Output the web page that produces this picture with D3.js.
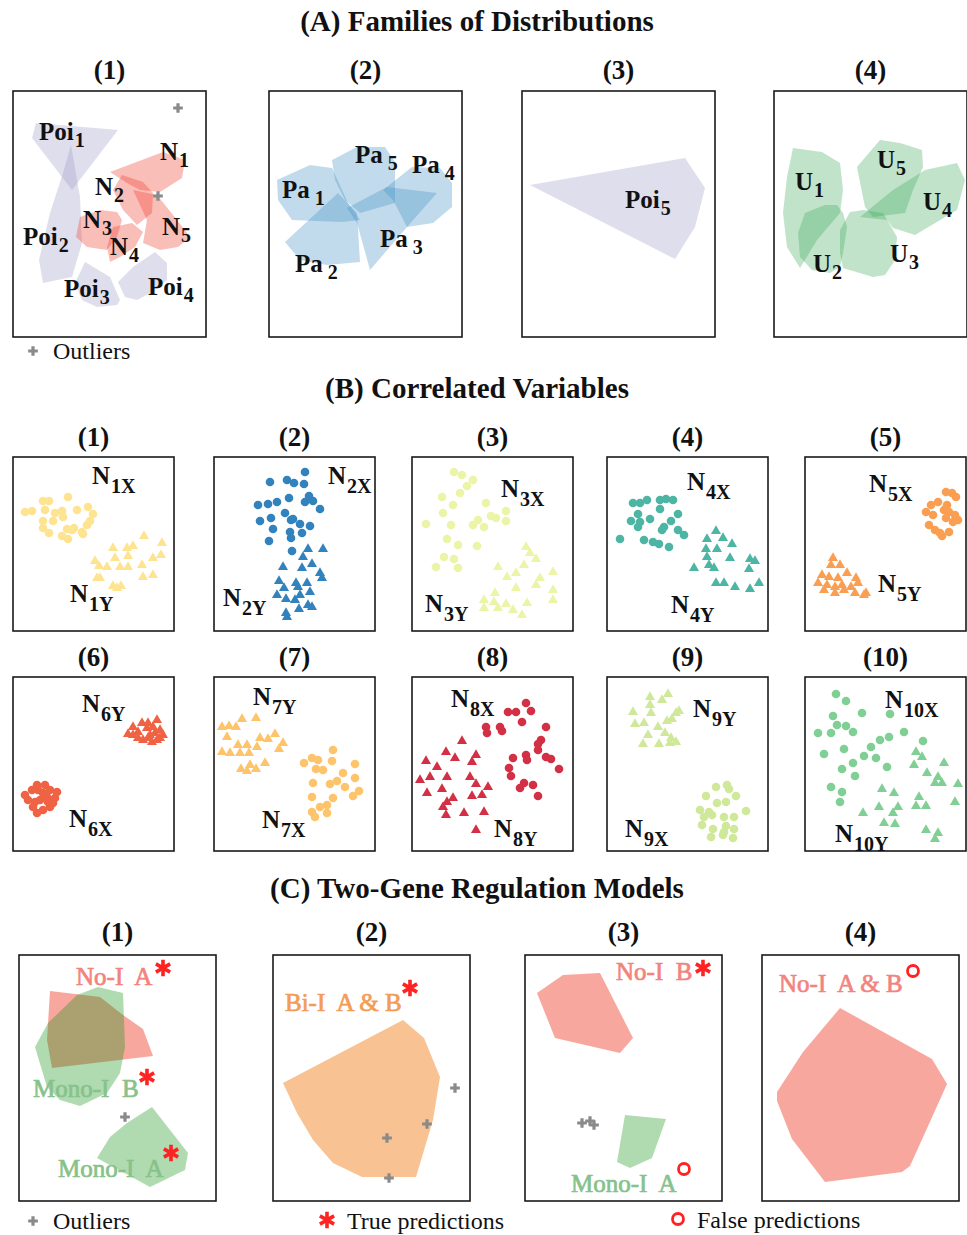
<!DOCTYPE html>
<html>
<head>
<meta charset="utf-8">
<script src="https://cdn.jsdelivr.net/npm/d3@7"></script>
<style>
  body { margin: 0; background: #fff; }
  svg text { font-family: 'Liberation Serif', 'Times New Roman', serif; }
</style>
</head>
<body>
<svg id="fig" width="967" height="1235"></svg>
<script>
// ---------------- data ----------------
var sectionTitles = ["(A) Families of Distributions", "(B) Correlated Variables", "(C) Two-Gene Regulation Models"];
var famTags = ["(1)", "(2)", "(3)", "(4)"];
var corrTags = ["(1)", "(2)", "(3)", "(4)", "(5)", "(6)", "(7)", "(8)", "(9)", "(10)"];
var regTags = ["(1)", "(2)", "(3)", "(4)"];

// (A) convex hulls of samples, panel units (x right, y down)
var fam1 = [
  { name: "Poi", sub: "1", family: "poi", hull: [[23,32],[105,39],[59,99],[19,47]] },
  { name: "Poi", sub: "2", family: "poi", hull: [[58,54],[67,106],[69,152],[59,186],[30,192],[26,169],[37,122],[50,82]] },
  { name: "Poi", sub: "3", family: "poi", hull: [[72,171],[97,186],[107,209],[104,214],[84,216],[69,209],[62,192]] },
  { name: "Poi", sub: "4", family: "poi", hull: [[142,161],[154,172],[154,189],[139,201],[124,209],[112,206],[105,191],[120,176]] },
  { name: "N", sub: "1", family: "norm", hull: [[97,81],[150,61],[172,69],[169,87],[147,101],[127,99],[114,92]] },
  { name: "N", sub: "2", family: "norm", hull: [[109,84],[130,91],[140,102],[139,122],[124,134],[110,119],[100,99]] },
  { name: "N", sub: "5", family: "norm", hull: [[120,99],[144,104],[164,129],[177,146],[165,156],[147,159],[130,152],[134,129]] },
  { name: "N", sub: "3", family: "norm", hull: [[67,126],[87,119],[104,121],[109,129],[104,146],[94,159],[74,156],[63,146]] },
  { name: "N", sub: "4", family: "norm", hull: [[100,136],[119,132],[130,141],[122,156],[107,166],[97,171],[94,156]] }
];
var fam1Outliers = [[165,17],[145,105]];
var fam2 = [
  { name: "Pa", sub: "1", family: "pareto", hull: [[8,89],[41,74],[63,77],[79,112],[91,129],[73,131],[23,129],[9,109]] },
  { name: "Pa", sub: "5", family: "pareto", hull: [[63,69],[88,56],[116,56],[126,71],[126,112],[91,122],[76,109],[66,89]] },
  { name: "Pa", sub: "4", family: "pareto", hull: [[114,99],[143,76],[171,77],[183,92],[183,116],[164,132],[138,136],[124,109]] },
  { name: "Pa", sub: "3", family: "pareto", hull: [[78,117],[118,96],[168,102],[138,136],[101,179],[88,132]] },
  { name: "Pa", sub: "2", family: "pareto", hull: [[16,151],[69,102],[88,122],[91,171],[58,174],[31,169]] }
];
var fam3 = [
  { name: "Poi", sub: "5", family: "poi", hull: [[8,94],[163,67],[171,79],[183,97],[173,136],[153,168]] }
];
var fam4 = [
  { name: "U", sub: "1", family: "unif", hull: [[19,57],[48,61],[66,72],[69,99],[66,122],[43,149],[26,177],[13,156],[9,122],[13,86]] },
  { name: "U", sub: "2", family: "unif", hull: [[31,122],[51,114],[63,114],[69,122],[73,136],[69,162],[66,176],[56,182],[38,179],[26,166],[24,142]] },
  { name: "U", sub: "3", family: "unif", hull: [[76,121],[89,119],[109,122],[123,146],[121,169],[111,184],[99,186],[69,177],[66,162],[66,139]] },
  { name: "U", sub: "4", family: "unif", hull: [[86,126],[119,99],[151,79],[183,72],[191,89],[183,119],[141,144],[119,137],[113,129]] },
  { name: "U", sub: "5", family: "unif", hull: [[83,76],[106,49],[126,52],[148,59],[149,76],[139,99],[131,122],[99,126],[91,116]] }
];

// (B) sampled pairs, X drawn as circles, Y as triangles
var n1X = [[12,55],[19,54],[30,44],[36,44],[55,40],[32,53],[42,56],[49,54],[64,53],[75,50],[80,57],[30,64],[40,64],[50,60],[77,64],[74,68],[30,71],[36,76],[49,79],[54,72],[61,71],[69,75],[70,77],[55,82],[59,73]];
var n1Y = [[131,79],[149,86],[100,91],[114,91],[120,89],[102,101],[115,99],[140,101],[148,98],[82,104],[86,109],[94,110],[107,110],[115,110],[129,108],[84,121],[87,121],[130,120],[140,118],[100,129],[108,129],[104,131]];
var n2X = [[91,15],[56,25],[73,23],[80,26],[90,27],[44,48],[54,47],[63,45],[75,41],[95,39],[99,44],[91,45],[106,52],[71,56],[46,64],[57,61],[77,63],[79,62],[86,67],[96,69],[59,72],[76,75],[88,76],[55,84],[77,81],[78,94]];
var n2Y = [[94,92],[109,92],[89,100],[98,107],[69,110],[88,111],[106,116],[108,121],[65,124],[82,126],[93,126],[70,131],[84,130],[63,138],[72,142],[81,143],[96,135],[86,138],[94,148],[98,150],[85,152],[72,156],[73,160]];
var n3X = [[42,15],[50,18],[61,23],[55,29],[48,36],[30,40],[41,48],[74,46],[31,56],[66,63],[79,59],[84,61],[94,54],[94,64],[14,67],[39,68],[61,68],[72,70],[35,82],[46,88],[65,89],[32,100],[42,102],[24,110],[46,111]];
var n3Y = [[114,90],[118,96],[124,102],[86,110],[112,108],[104,116],[95,120],[141,115],[128,121],[124,128],[104,131],[141,133],[83,136],[72,143],[82,145],[94,147],[115,146],[141,143],[72,151],[86,151],[101,153],[110,158]];
var n4X = [[26,46],[33,46],[40,43],[53,43],[59,42],[66,43],[53,52],[71,57],[31,57],[43,62],[33,65],[64,64],[24,64],[57,70],[55,73],[31,70],[71,73],[77,78],[13,82],[37,83],[46,85],[52,87],[62,90]];
var n4Y = [[109,74],[100,82],[116,81],[125,87],[99,92],[110,92],[100,100],[123,101],[102,108],[107,111],[87,111],[143,102],[148,104],[142,112],[109,126],[117,126],[128,130],[143,132],[152,126]];
var n5X = [[121,55],[126,48],[133,45],[141,35],[147,36],[151,40],[142,48],[139,53],[144,55],[150,58],[153,63],[148,65],[141,61],[128,58],[124,68],[130,73],[135,76],[137,79],[144,75]];
var n5Y = [[28,101],[26,108],[35,108],[17,118],[24,120],[33,121],[42,116],[51,121],[13,126],[22,128],[30,130],[37,128],[46,130],[53,126],[61,136],[19,133],[30,136],[39,133],[50,136],[59,138]];
var n6X = [[12,118],[19,113],[24,108],[32,108],[37,113],[44,115],[42,121],[35,125],[37,130],[30,133],[24,136],[20,130],[15,123],[27,123],[30,116],[25,113],[34,120],[40,126],[22,125]];
var n6Y = [[120,50],[115,57],[125,55],[129,46],[135,46],[144,43],[140,50],[147,53],[150,58],[144,63],[139,65],[130,63],[125,61],[134,51],[137,58],[142,56],[135,61],[147,61],[120,58]];
var n7X = [[119,73],[98,81],[104,83],[118,84],[90,86],[102,92],[109,93],[141,87],[129,96],[99,106],[116,107],[123,104],[131,110],[141,101],[145,114],[139,119],[119,121],[98,120],[106,130],[113,128],[98,135],[101,140],[113,136]];
var n7Y = [[8,50],[15,49],[22,50],[28,42],[42,41],[13,60],[46,61],[54,62],[61,57],[69,66],[65,72],[24,68],[33,68],[43,70],[8,75],[16,76],[26,76],[35,76],[51,86],[36,88],[27,92],[42,92],[33,94]];
var n8X = [[114,26],[96,35],[104,35],[119,34],[110,45],[74,50],[75,56],[88,50],[90,54],[134,50],[129,63],[126,67],[126,73],[114,78],[115,83],[101,81],[97,91],[99,99],[134,80],[139,82],[147,92],[121,108],[112,106],[108,111],[126,119]];
var n8Y = [[50,64],[34,75],[43,81],[64,78],[60,85],[14,84],[25,90],[18,100],[35,100],[8,103],[58,100],[64,107],[76,110],[30,112],[15,116],[41,121],[35,125],[31,130],[34,138],[52,136],[60,119],[70,118],[72,135],[64,153]];
var n9X = [[120,108],[122,112],[129,119],[109,110],[99,119],[110,126],[119,125],[93,133],[102,135],[97,140],[105,138],[139,134],[117,140],[127,140],[119,149],[127,152],[106,152],[95,148],[104,160],[116,158],[126,161],[117,155]];
var n9Y = [[43,20],[61,17],[55,23],[26,35],[43,28],[44,36],[72,34],[69,36],[65,42],[60,44],[37,46],[28,47],[51,50],[58,56],[64,61],[69,65],[63,66],[52,67],[41,58],[36,67]];
var n10X = [[31,17],[41,24],[57,36],[85,37],[28,39],[32,48],[41,49],[13,56],[26,56],[48,55],[75,63],[84,60],[99,55],[118,64],[19,77],[39,72],[66,70],[59,79],[48,86],[71,81],[82,90],[37,92],[50,99],[26,110],[37,115],[35,125]];
var n10Y = [[111,75],[117,80],[139,86],[109,88],[122,96],[133,100],[130,106],[137,106],[153,107],[77,112],[89,116],[114,120],[111,129],[121,129],[150,125],[74,130],[93,130],[88,136],[58,136],[90,147],[79,146],[121,153],[133,156],[130,162]];
var corrColors = ["#fee391", "#3182bd", "#ecf4a8", "#4cb5a3", "#fa9f52", "#ef6344", "#fdc46c", "#d32f45", "#cfe89a", "#80cf95"];

// (C) regulation models: hulls, outliers and prediction verdicts
var reg1 = [
  { model: "noI", hull: [[31,36],[81,42],[104,60],[124,74],[134,101],[33,113],[28,85]] },
  { model: "monoI", hull: [[79,32],[104,38],[106,92],[101,118],[88,138],[61,151],[41,145],[28,132],[16,92],[29,68],[58,40]] },
  { model: "monoI", hull: [[133,152],[169,198],[166,215],[131,232],[78,203],[91,182],[108,168]] }
];
var reg2 = [
  { model: "biI", hull: [[10,128],[130,65],[151,83],[167,122],[160,165],[143,222],[89,222],[60,208],[40,185],[24,158]] }
];
var reg3 = [
  { model: "noI", hull: [[12,38],[38,20],[75,18],[108,83],[95,98],[30,83]] },
  { model: "monoI", hull: [[100,160],[141,164],[127,203],[105,213],[92,207]] }
];
var reg4 = [
  { model: "noI", hull: [[78,53],[170,104],[185,129],[148,211],[140,217],[63,227],[30,184],[15,146],[15,137],[41,97]] }
];
var regOutliers = [[[106,162]], [[182,133],[154,169],[114,183],[116,223]], [[57,168],[65,166],[69,170]], []];
var regLabels = [
  [{ text: "No-I  A", model: "noI", ok: true }, { text: "Mono-I  B", model: "monoI", ok: true }, { text: "Mono-I  A", model: "monoI", ok: true }],
  [{ text: "Bi-I  A & B", model: "biI", ok: true }],
  [{ text: "No-I  B", model: "noI", ok: true }, { text: "Mono-I  A", model: "monoI", ok: false }],
  [{ text: "No-I  A & B", model: "noI", ok: false }]
];

// ---------------- layout ----------------
var famLefts = [13, 269, 522, 774], famTop = 91, famW = 193, famH = 246;
var corrLefts = [13, 214, 412, 607, 805], corrTops = [457, 677], corrW = 161, corrH = 174;
var regLefts = [19, 273, 525, 762], regTop = 955, regW = 197, regH = 246;

var famLabelAt = [
  [[26,49],[10,154],[51,206],[135,204],[147,69],[82,104],[149,144],[70,137],[97,164]],
  [[13,107],[86,72],[143,82],[111,156],[26,181]],
  [[103,117]],
  [[21,99],[39,181],[116,171],[149,119],[103,77]]
];
// [X label, Y label] anchors per correlated panel
var corrLabelAt = [
  [[79,27],[57,145]], [[114,27],[9,149]], [[89,40],[13,155]], [[80,33],[64,156]], [[64,35],[73,135]],
  [[56,150],[69,35]], [[48,151],[39,28]], [[39,30],[82,160]], [[18,160],[86,40]], [[80,31],[30,165]]
];
var regLabelAt = [[[57,30],[14,142],[39,222]], [[12,56]], [[91,25],[46,237]], [[17,37]]];
var regMarkAt = [[[144,13],[128,122],[152,198]], [[137,33]], [[178,13],[159,214]], [[151,16]]];

var famFill = { poi: "#9e9ac8", norm: "#ef3b2c", pareto: "#4292c6", unif: "#41ab5d" };
var regFill = { noI: "#f0503c", monoI: "#1e961e", biI: "#f59a4a" };
var regFillOpacity = { noI: 0.5, monoI: 0.35, biI: 0.6 };
var regText = { noI: "#f2837e", monoI: "#86c28a", biI: "#f39c55" };

var svg = d3.select("#fig");
var outlierSym = d3.symbol().type(d3.symbolCross).size(52);
var starSym = d3.symbol().type(d3.symbolAsterisk || d3.symbolCross).size(190);

function panel(left, top, w, h) {
  var g = svg.append("g");
  g.append("rect").attr("x", left).attr("y", top).attr("width", w).attr("height", h)
    .attr("fill", "none").attr("stroke", "#1a1a1a").attr("stroke-width", 1.6);
  return {
    g: g,
    x: d3.scaleLinear().domain([0, w]).range([left, left + w]),
    y: d3.scaleLinear().domain([0, h]).range([top, top + h])
  };
}

function hullPath(p) {
  return d3.line().x(function(d){ return p.x(d[0]); }).y(function(d){ return p.y(d[1]); })
    .curve(d3.curveLinearClosed);
}

function subLabel(g, x, y, main, sub, o) {
  var t = g.append("text").attr("x", x).attr("y", y)
    .attr("font-size", o.size).attr("font-weight", "bold").attr("fill", "#111");
  t.append("tspan").text(main);
  t.append("tspan").attr("dx", o.gap).attr("dy", o.drop).attr("font-size", o.subSize).text(sub);
}

function tag(text, cx, y) {
  svg.append("text").attr("x", cx).attr("y", y).attr("text-anchor", "middle")
    .attr("font-size", 27).attr("font-weight", "bold").attr("fill", "#111").text(text);
}

function outliers(p, pts) {
  p.g.selectAll(null).data(pts).enter().append("path")
    .attr("d", outlierSym)
    .attr("transform", function(d){ return "translate(" + p.x(d[0]) + "," + p.y(d[1]) + ")"; })
    .attr("fill", "#8a8a8a");
}

function verdictMark(g, x, y, ok) {
  if (ok) {
    g.append("path").attr("d", starSym).attr("transform", "translate(" + x + "," + y + ")")
      .attr("fill", "#f22").attr("stroke", "#f22").attr("stroke-width", 3.6);
  } else {
    g.append("circle").attr("cx", x).attr("cy", y).attr("r", 5.5)
      .attr("fill", "none").attr("stroke", "#f22").attr("stroke-width", 2.8);
  }
}

// section titles
[31, 398, 898].forEach(function(y, i) {
  svg.append("text").attr("x", 477).attr("y", y).attr("text-anchor", "middle")
    .attr("font-size", 29).attr("font-weight", "bold").attr("fill", "#111").text(sectionTitles[i]);
});

// ---- (A)
[fam1, fam2, fam3, fam4].forEach(function(hulls, i) {
  tag(famTags[i], famLefts[i] + famW / 2, 79);
  var p = panel(famLefts[i], famTop, famW, famH);
  var line = hullPath(p);
  p.g.selectAll("path.hull").data(hulls).enter().append("path").attr("class", "hull")
    .attr("d", function(d){ return line(d.hull); })
    .attr("fill", function(d){ return famFill[d.family]; })
    .attr("fill-opacity", 0.33);
  if (i === 0) outliers(p, fam1Outliers);
  hulls.forEach(function(d, j) {
    var at = famLabelAt[i][j];
    subLabel(p.g, p.x(at[0]), p.y(at[1]), d.name, d.sub,
      { size: 25, subSize: 20, drop: 7, gap: d.family === "pareto" ? 5 : 1 });
  });
});

// ---- (B)
var corrData = [[n1X,n1Y],[n2X,n2Y],[n3X,n3Y],[n4X,n4Y],[n5X,n5Y],[n6X,n6Y],[n7X,n7Y],[n8X,n8Y],[n9X,n9Y],[n10X,n10Y]];
var triSym = d3.symbol().type(d3.symbolTriangle).size(44);
corrData.forEach(function(pair, i) {
  var row = Math.floor(i / 5), col = i % 5;
  tag(corrTags[i], corrLefts[col] + corrW / 2, row === 0 ? 446 : 666);
  var p = panel(corrLefts[col], corrTops[row], corrW, corrH);
  p.g.selectAll("circle.x").data(pair[0]).enter().append("circle").attr("class", "x")
    .attr("cx", function(d){ return p.x(d[0]); })
    .attr("cy", function(d){ return p.y(d[1]); })
    .attr("r", 4.3).attr("fill", corrColors[i]);
  p.g.selectAll("path.y").data(pair[1]).enter().append("path").attr("class", "y")
    .attr("d", triSym)
    .attr("transform", function(d){ return "translate(" + p.x(d[0]) + "," + p.y(d[1]) + ")"; })
    .attr("fill", corrColors[i]);
  var n = i + 1;
  subLabel(p.g, p.x(corrLabelAt[i][0][0]), p.y(corrLabelAt[i][0][1]), "N", n + "X", { size: 25, subSize: 20, drop: 9, gap: 1 });
  subLabel(p.g, p.x(corrLabelAt[i][1][0]), p.y(corrLabelAt[i][1][1]), "N", n + "Y", { size: 25, subSize: 20, drop: 9, gap: 1 });
});

// ---- (C)
[reg1, reg2, reg3, reg4].forEach(function(hulls, i) {
  tag(regTags[i], regLefts[i] + regW / 2, 941);
  var p = panel(regLefts[i], regTop, regW, regH);
  var line = hullPath(p);
  p.g.selectAll("path.hull").data(hulls).enter().append("path").attr("class", "hull")
    .attr("d", function(d){ return line(d.hull); })
    .attr("fill", function(d){ return regFill[d.model]; })
    .attr("fill-opacity", function(d){ return regFillOpacity[d.model]; });
  outliers(p, regOutliers[i]);
  regLabels[i].forEach(function(d, j) {
    var at = regLabelAt[i][j], mk = regMarkAt[i][j];
    p.g.append("text").attr("x", p.x(at[0])).attr("y", p.y(at[1]))
      .style("white-space", "pre")
      .attr("font-size", 25).attr("fill", regText[d.model])
      .attr("stroke", regText[d.model]).attr("stroke-width", 0.7)
      .text(d.text);
    verdictMark(p.g, p.x(mk[0]), p.y(mk[1]), d.ok);
  });
});

// ---- legends
function legendText(x, y, text) {
  svg.append("text").attr("x", x).attr("y", y).attr("font-size", 24).attr("fill", "#111").text(text);
}
svg.append("path").attr("d", outlierSym).attr("transform", "translate(33,351)").attr("fill", "#8a8a8a");
legendText(53, 359, "Outliers");
svg.append("path").attr("d", outlierSym).attr("transform", "translate(33,1221)").attr("fill", "#8a8a8a");
legendText(53, 1229, "Outliers");
verdictMark(svg, 327, 1220, true);
legendText(347, 1229, "True predictions");
verdictMark(svg, 678, 1219, false);
legendText(697, 1228, "False predictions");
</script>
</body>
</html>
